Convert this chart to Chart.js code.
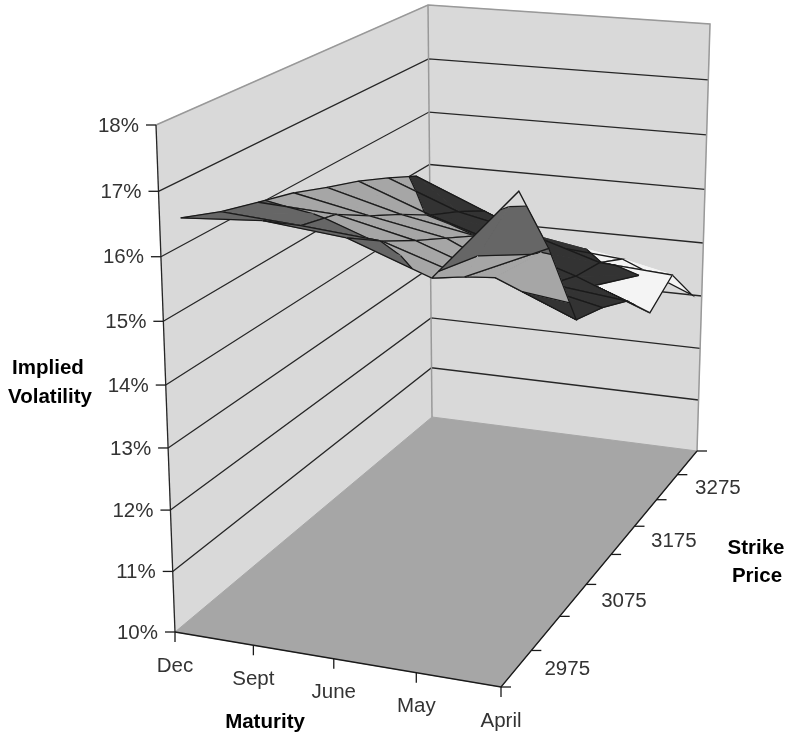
<!DOCTYPE html>
<html>
<head>
<meta charset="utf-8">
<title>Implied Volatility</title>
<script src="https://cdn.jsdelivr.net/npm/chart.js@4"></script>
<style>
    html, body { margin: 0; background: #fff; }
    canvas { display: block; }
</style>
</head>
<body>
<canvas id="grafico" width="785" height="735"></canvas>
<script>
const maturities = ['Dec', 'Sept', 'June', 'May', 'April'];
const strikes = [2975, 3025, 3075, 3125, 3175, 3225, 3275, 3325];
const volTicks = [10, 11, 12, 13, 14, 15, 16, 17, 18];

// implied vol (%) per strike, one list per maturity
const volDec = [16.43, 16.2, 16.03, 15.87, 15.65, 15.45, 15.2, 14.93];
const volSept = [16.51, 16.1, 15.95, 15.6, 15.3, 14.96, 14.7, 14.39];
const volJune = [16.37, 15.98, 15.65, 15.35, 15.05, 14.55, 14.42, 13.85];
const volMay = [15.89, 15.55, 15.18, 14.75, 14.35, 14.13, 14.02, 13.74];
const volApril = [17.3, 16.12, 14.64, 14.46, 14.2, 13.62, 13.93, 13.2];

// surface colour bands, one colour between each pair of edges
const bandEdges = [13, 14, 15, 16, 17, 18];
const bandColors = ['#f4f4f4', '#333333', '#a6a6a6', '#666666', '#d9d9d9'];

const surface = [volDec, volSept, volJune, volMay, volApril];

// 3D box seen on the page: floor and top corners as [Dec/low, April/low, April/high, Dec/high]
const floorMap = cornerMap([175, 632], [501, 687], [697, 451], [432, 417]);
const topMap = cornerMap([156, 125], [503, 153], [710, 24], [428, 5]);
const heightCurve = 1.053;

function cornerMap(p0, p1, p2, p3) {
    const dx1 = p1[0] - p2[0], dx2 = p3[0] - p2[0], sx = p0[0] - p1[0] + p2[0] - p3[0];
    const dy1 = p1[1] - p2[1], dy2 = p3[1] - p2[1], sy = p0[1] - p1[1] + p2[1] - p3[1];
    const det = dx1 * dy2 - dx2 * dy1;
    const g = (sx * dy2 - dx2 * sy) / det;
    const h = (dx1 * sy - sx * dy1) / det;
    return (u, w) => {
        const d = 1 + g * u + h * w;
        return [
            (p0[0] + (p1[0] - p0[0] + g * p1[0]) * u + (p3[0] - p0[0] + h * p3[0]) * w) / d,
            (p0[1] + (p1[1] - p0[1] + g * p1[1]) * u + (p3[1] - p0[1] + h * p3[1]) * w) / d
        ];
    };
}

function project(u, w, vol) {
    const f = floorMap(u, w), t = topMap(u, w);
    const h = (vol - volTicks[0]) / (volTicks[volTicks.length - 1] - volTicks[0]);
    const k = h / (h + heightCurve * (1 - h));
    return { x: f[0] + (t[0] - f[0]) * k, y: f[1] + (t[1] - f[1]) * k };
}

const uAt = i => i / (maturities.length - 1);
const wAt = j => (j + 0.5) / strikes.length;

const datasets = [];

function addShape(points, color) {
    datasets.push({
        data: points.concat([points[0]]), showLine: true, fill: 'shape', backgroundColor: color,
        borderColor: color, borderWidth: 1, pointRadius: 0, clip: false
    });
}

function addLine(points, color, width) {
    datasets.push({
        data: points, showLine: true, fill: false, borderColor: color,
        borderWidth: width || 1.3, pointRadius: 0, clip: false
    });
}

function clipAbove(poly, level, sign) {
    const out = [];
    poly.forEach((a, n) => {
        const b = poly[(n + 1) % poly.length];
        const inA = (a.v - level) * sign >= 0, inB = (b.v - level) * sign >= 0;
        if (inA) out.push(a);
        if (inA !== inB) {
            const t = (level - a.v) / (b.v - a.v);
            out.push({ u: a.u + (b.u - a.u) * t, w: a.w + (b.w - a.w) * t, v: level });
        }
    });
    return out;
}

function drawTriangle(tri) {
    const toPage = p => project(p.u, p.w, p.v);
    bandColors.forEach((color, b) => {
        let poly = clipAbove(tri, bandEdges[b], 1);
        if (poly.length) poly = clipAbove(poly, bandEdges[b + 1], -1);
        if (poly.length > 2) addShape(poly.map(toPage), color);
    });
    bandEdges.forEach(level => {
        const cross = [];
        tri.forEach((a, n) => {
            const b = tri[(n + 1) % 3];
            if ((a.v - level) * (b.v - level) < 0) {
                const t = (level - a.v) / (b.v - a.v);
                cross.push(project(a.u + (b.u - a.u) * t, a.w + (b.w - a.w) * t, level));
            }
        });
        if (cross.length === 2) addLine(cross, '#1a1a1a');
    });
}

function buildBox() {
    const volLow = volTicks[0], volHigh = volTicks[volTicks.length - 1];
    addShape([project(0, 0, volLow), project(0, 0, volHigh), project(0, 1, volHigh), project(0, 1, volLow)], '#d9d9d9');
    addShape([project(0, 1, volLow), project(0, 1, volHigh), project(1, 1, volHigh), project(1, 1, volLow)], '#d9d9d9');
    addShape([project(0, 0, volLow), project(1, 0, volLow), project(1, 1, volLow), project(0, 1, volLow)], '#a6a6a6');

    volTicks.slice(1, -1).forEach(v => {
        addLine([project(0, 0, v), project(0, 1, v), project(1, 1, v)], '#262626');
    });
    addLine([project(0, 0, volHigh), project(0, 1, volHigh), project(1, 1, volHigh), project(1, 1, volLow)], '#999999', 1.5);
    addLine([project(0, 1, volLow), project(0, 1, volHigh)], '#999999', 1.5);
    addLine([project(0, 0, volHigh), project(0, 0, volLow)], '#262626');
    addLine([project(0, 0, volLow), project(1, 0, volLow), project(1, 1, volLow)], '#1a1a1a');

    // tick marks
    volTicks.forEach(v => {
        const p = project(0, 0, v);
        addLine([{ x: p.x - 10, y: p.y }, p], '#1a1a1a');
    });
    maturities.forEach((m, i) => {
        const p = project(uAt(i), 0, volLow);
        addLine([p, { x: p.x, y: p.y + 10 }], '#1a1a1a');
    });
    for (let k = 0; k <= strikes.length; k++) {
        const p = project(1, k / strikes.length, volLow);
        addLine([p, { x: p.x + 10, y: p.y }], '#1a1a1a');
    }
}

function buildSurface() {
    // back corner (Dec, high strike) first so nearer cells paint over it
    for (let j = strikes.length - 2; j >= 0; j--) {
        for (let i = 0; i < maturities.length - 1; i++) {
            const corner = (a, b) => ({ u: uAt(a), w: wAt(b), v: surface[a][b] });
            const c00 = corner(i, j), c10 = corner(i + 1, j), c11 = corner(i + 1, j + 1), c01 = corner(i, j + 1);
            // fold each cell along its higher diagonal
            if (c01.v + c10.v >= c00.v + c11.v) {
                drawTriangle([c00, c01, c10]);
                drawTriangle([c01, c11, c10]);
            } else {
                drawTriangle([c00, c01, c11]);
                drawTriangle([c00, c11, c10]);
            }
            const edge = [c00, c10, c11, c01, c00].map(p => project(p.u, p.w, p.v));
            addLine(edge, '#1a1a1a');
        }
    }
}

buildBox();
buildSurface();

const axisText = {
    id: 'axisText',
    afterDatasetsDraw(chart) {
        const { ctx, scales: { x, y } } = chart;
        const put = (text, px, py, align, font, color) => {
            ctx.font = font;
            ctx.fillStyle = color;
            ctx.textAlign = align;
            ctx.textBaseline = 'middle';
            ctx.fillText(text, x.getPixelForValue(px), y.getPixelForValue(py));
        };
        const tickFont = '20.5px "Liberation Sans", Arial, sans-serif';
        const titleFont = 'bold 20.5px "Liberation Sans", Arial, sans-serif';
        const tickColor = '#333333';

        ctx.save();
        volTicks.forEach(v => {
            const p = project(0, 0, v);
            put(v + '%', p.x - 17, p.y + 1, 'right', tickFont, tickColor);
        });
        maturities.forEach((m, i) => {
            const p = project(uAt(i), 0, volTicks[0]);
            put(m, p.x, p.y + 34, 'center', tickFont, tickColor);
        });
        strikes.forEach((s, j) => {
            if (j % 2 === 0 && j < strikes.length - 1) {
                const p = project(1, wAt(j), volTicks[0]);
                put(String(s), p.x + 28, p.y + 1, 'left', tickFont, tickColor);
            }
        });
        put('Implied', 48, 368, 'center', titleFont, '#000');
        put('Volatility', 50, 397, 'center', titleFont, '#000');
        put('Maturity', 265, 722, 'center', titleFont, '#000');
        put('Strike', 756, 548, 'center', titleFont, '#000');
        put('Price', 757, 576, 'center', titleFont, '#000');
        ctx.restore();
    }
};

new Chart(document.getElementById('grafico'), {
    type: 'scatter',
    data: { datasets: datasets.slice().reverse() }, // Chart.js paints the last dataset first
    options: {
        responsive: false,
        animation: false,
        layout: { padding: 0 },
        plugins: { legend: { display: false }, tooltip: { enabled: false } },
        elements: { line: { tension: 0 } },
        scales: {
            x: { type: 'linear', min: 0, max: 785, display: false },
            y: { type: 'linear', min: 0, max: 735, reverse: true, display: false }
        }
    },
    plugins: [axisText]
});
</script>
</body>
</html>
